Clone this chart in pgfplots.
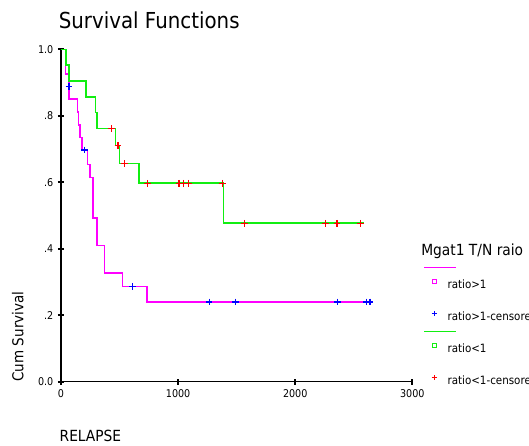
\documentclass[border=0pt]{standalone}
\usepackage{fontspec}
\setmainfont{DejaVu Sans}[FakeStretch=0.9]
\usepackage{pgfplots}
\pgfplotsset{compat=1.18}

\definecolor{kmmag}{HTML}{FF00FF}
\definecolor{kmgreen}{HTML}{11EE11}
\definecolor{kmblue}{HTML}{0000FF}
\definecolor{kmred}{HTML}{FF0000}

\begin{document}
\begin{tikzpicture}
% page = 529x446 px, 1px = 0.75pt, origin at data (0,0)
\path[use as bounding box] (-45.75pt,-48.2pt) rectangle (351pt,286.3pt);
\begin{axis}[
    at={(0,0)}, anchor=origin,
    scale only axis,
    width=263.5pt, height=249.3pt,
    xmin=0, xmax=3000, ymin=0, ymax=1,
    axis lines=left,
    axis line style={-, line width=0.9pt},
    clip=false,
    xtick={0,1000,2000,3000},
    ytick={0,0.2,0.4,0.6,0.8,1},
    yticklabels={0.0,.2,.4,.6,.8,1.0},
    scaled x ticks=false,
    xticklabel style={/pgf/number format/1000 sep={}},
    /pgf/number format/assume math mode=true,
    tick align=center,
    major tick length=4.5pt,
    tick style={black, line width=1.5pt},
    tick label style={font=\fontsize{8pt}{9pt}\selectfont},
    legend style={at={(1.0493,0.3161)}, anchor=north west,
        draw=none, fill=none, inner sep=0pt,
        row sep=13.9pt, column sep=0.5pt,
        cells={anchor=base west},
        nodes={inner sep=0pt, text height=0.73em, text depth=0.15em,
               font=\fontsize{8.6pt}{10pt}\selectfont}},
]
% ratio>1
\addplot[kmmag, line width=1.2pt, const plot, mark=none,
    legend image code/.code={
        \draw[overlay, kmmag, line width=1.1pt] (-7.3pt,15.75pt) -- (16.5pt,15.75pt);
        \draw[kmmag, line width=0.6pt] plot[mark=square, mark size=1.5pt] coordinates {(0pt,5.5pt)};
        \path (-2.5pt,-1pt) (9pt,8pt);
    }]
coordinates {
    (0,1) (37,0.926) (68,0.888) (70,0.850) (140,0.811) (150,0.773)
    (162,0.735) (179,0.697) (225,0.654) (250,0.615) (271,0.492)
    (305,0.410) (370,0.328) (526,0.287) (732,0.240) (2664,0.240)
};
\addlegendentry{ratio>1}
\addplot[kmblue, only marks, mark=+, mark size=2.5pt, line width=0.9pt,
    legend image code/.code={
        \draw[kmblue, line width=0.7pt] plot[mark=+, mark size=1.9pt] coordinates {(0pt,4.9pt)};
        \path (-2.5pt,-1pt) (9pt,8pt);
    }]
coordinates {
    (68,0.888) (203,0.697) (609,0.287)
    (1265,0.240) (1492,0.240) (2360,0.240) (2611,0.240) (2639,0.240)
};
\addlegendentry{ratio>1-censored}
% ratio<1
\addplot[kmgreen, line width=1.2pt, const plot, mark=none,
    legend image code/.code={
        \draw[overlay, kmgreen, line width=1.1pt] (-7.3pt,15.75pt) -- (16.5pt,15.75pt);
        \draw[kmgreen, line width=0.6pt] plot[mark=square, mark size=1.5pt] coordinates {(0pt,5.5pt)};
        \path (-2.5pt,-1pt) (9pt,8pt);
    }]
coordinates {
    (0,1) (45,0.952) (68,0.905) (211,0.857) (296,0.810) (307,0.762)
    (467,0.711) (498,0.656) (666,0.597) (1389,0.477) (2588,0.477)
};
\addlegendentry{ratio<1}
\addplot[kmred, only marks, mark=+, mark size=2.5pt, line width=0.9pt,
    legend image code/.code={
        \draw[kmred, line width=0.7pt] plot[mark=+, mark size=1.9pt] coordinates {(0pt,4.9pt)};
        \path (-2.5pt,-1pt) (9pt,8pt);
    }]
coordinates {
    (433,0.762) (487,0.711) (541,0.656)
    (740,0.597) (1008,0.597) (1044,0.597) (1091,0.597) (1377,0.597)
    (1565,0.477) (2257,0.477) (2357,0.477) (2559,0.477)
};
\addlegendentry{ratio<1-censored}
\end{axis}
\node[anchor=base west, inner sep=0pt, font=\fontsize{16.5pt}{18pt}\selectfont]
    at (-1.8pt,265pt) {Survival Functions};
\node[anchor=base west, rotate=90, inner sep=0pt, font=\fontsize{11.25pt}{13pt}\selectfont]
    at (-28.3pt,0pt) {Cum Survival};
\node[anchor=base west, inner sep=0pt, font=\fontsize{11.5pt}{13pt}\selectfont]
    at (-1.2pt,-45pt) {RELAPSE};
\node[anchor=base west, inner sep=0pt, font=\fontsize{11.5pt}{13pt}\selectfont]
    at (270pt,95pt) {Mgat1 T/N raio};
\end{tikzpicture}
\end{document}
